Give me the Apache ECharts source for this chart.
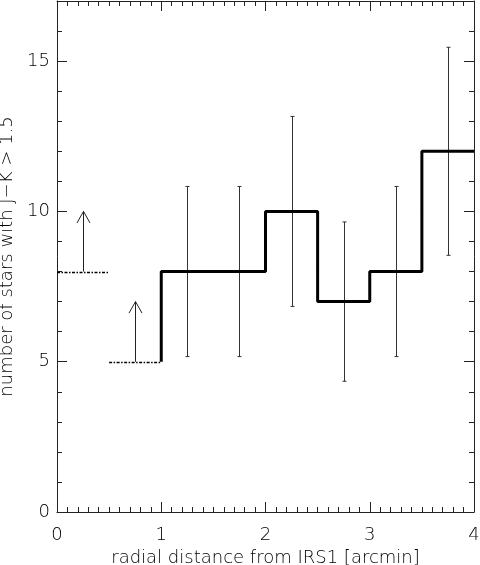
<!DOCTYPE html>
<html><head><meta charset="utf-8">
<script src="https://cdn.jsdelivr.net/npm/echarts@6/dist/echarts.min.js"></script>
<style>html,body{margin:0;padding:0;background:#fff;}#c{width:480px;height:565px;}</style>
</head><body><div id="c"></div>
<script>
// ---- data ----
const binStart = [1.0, 1.5, 2.0, 2.5, 3.0, 3.5];
const binEnd   = [1.5, 2.0, 2.5, 3.0, 3.5, 4.0];
const counts   = [8, 8, 10, 7, 8, 12];
const errX     = [1.25, 1.75, 2.25, 2.75, 3.25, 3.75];
const errLow   = [5.17, 5.17, 6.84, 4.35, 5.17, 8.54];
const errHigh  = [10.83, 10.83, 13.16, 9.65, 10.83, 15.46];
const limitStart = [0.0, 0.5];
const limitEnd   = [0.5, 1.0];
const limitValue = [8, 5];
const limitArrowX = [0.25, 0.75];
const limitArrowTip = [10, 7];
const xTicks = [0, 1, 2, 3, 4];
const yTicks = [0, 5, 10, 15];
const xTitle = 'radial distance from IRS1 [arcmin]';
const yTitle = 'number of stars with J\u2212K > 1.5';

// ---- build ----
const FONT = 'DejaVu Sans';
const FW = 200;
const FS = 18;
const TXT = '#000';
const AX = '#222';
const stepPts = [[binStart[0], limitValue[1]]];
for (let i = 0; i < counts.length; i++) stepPts.push([binStart[i], counts[i]]);
stepPts.push([binEnd[binEnd.length - 1], counts[counts.length - 1]]);

const errData = errX.map((x, i) => [x, errLow[i], errHigh[i]]);
const limData = limitStart.map((x, i) => [x, limitEnd[i], limitValue[i]]);
const arrowData = limitArrowX.map((x, i) => [x, limitValue[i], limitArrowTip[i]]);

function xAxisDef(pos, labels) {
  return {
    type: 'value', position: pos, min: 0, max: 4, interval: 1,
    axisLine: { show: true, onZero: false, lineStyle: { color: AX, width: 1 } },
    axisTick: { show: true, inside: true, length: 10, lineStyle: { color: AX } },
    minorTick: { show: true, splitNumber: 10, length: 5, lineStyle: { color: AX } },
    splitLine: { show: false },
    axisLabel: labels ? { show: true, margin: 14, fontSize: FS, fontWeight: FW, color: TXT, fontFamily: FONT,
      formatter: v => xTicks.includes(v) ? String(v) : '' } : { show: false },
    name: labels ? xTitle : '', nameLocation: 'middle', nameGap: 31,
    nameTextStyle: { fontSize: FS, fontWeight: FW, color: TXT, fontFamily: FONT }
  };
}
function yAxisDef(pos, major, labels) {
  return {
    type: 'value', position: pos, min: 0, max: 17, interval: major ? 5 : 1,
    axisLine: { show: major, onZero: false, lineStyle: { color: AX, width: 1 } },
    axisTick: { show: true, inside: true, length: major ? 10 : 5, lineStyle: { color: AX } },
    splitLine: { show: false },
    axisLabel: labels ? { show: true, margin: 7, fontSize: FS, fontWeight: FW, color: TXT, fontFamily: FONT,
      formatter: v => yTicks.includes(v) ? String(v) : '' } : { show: false },
    name: labels ? yTitle : '', nameLocation: 'middle', nameGap: 36, nameRotate: 90,
    nameTextStyle: { fontSize: FS, fontWeight: FW, color: TXT, fontFamily: FONT }
  };
}

const chart = echarts.init(document.getElementById('c'), null, { renderer: 'canvas' });
chart.setOption({
  backgroundColor: '#fff',
  animation: false,
  grid: { left: 57, right: 6, top: 1, bottom: 53, containLabel: false, outerBoundsMode: 'none' },
  xAxis: [xAxisDef('bottom', true), xAxisDef('top', false)],
  yAxis: [yAxisDef('left', true, true), yAxisDef('right', true, false),
          yAxisDef('left', false, false), yAxisDef('right', false, false)],
  series: [
    {
      type: 'line', xAxisIndex: 0, yAxisIndex: 0, step: 'end', data: stepPts,
      symbol: 'none', lineStyle: { color: '#000', width: 3 }, z: 5
    },
    {
      type: 'custom', xAxisIndex: 0, yAxisIndex: 0, data: errData,
      renderItem: function (params, api) {
        const a = api.coord([api.value(0), api.value(1)]);
        const b = api.coord([api.value(0), api.value(2)]);
        const x = Math.round(a[0]) + 0.5;
        const st = { stroke: '#333', lineWidth: 1 };
        return { type: 'group', children: [
          { type: 'line', shape: { x1: x, y1: a[1], x2: x, y2: b[1] }, style: st },
          { type: 'line', shape: { x1: x - 2, y1: a[1], x2: x + 2, y2: a[1] }, style: st },
          { type: 'line', shape: { x1: x - 2, y1: b[1], x2: x + 2, y2: b[1] }, style: st }
        ]};
      }, z: 4
    },
    {
      type: 'custom', xAxisIndex: 0, yAxisIndex: 0, data: limData,
      renderItem: function (params, api) {
        const a = api.coord([api.value(0), api.value(2)]);
        const b = api.coord([api.value(1), api.value(2)]);
        const y = Math.round(a[1]) + 0.5;
        return { type: 'line', shape: { x1: a[0], y1: y, x2: b[0], y2: y },
          style: { stroke: '#000', lineWidth: 1.5, lineDash: [3, 1.5, 1.5, 1.5] } };
      }, z: 4
    },
    {
      type: 'custom', xAxisIndex: 0, yAxisIndex: 0, data: arrowData,
      renderItem: function (params, api) {
        const a = api.coord([api.value(0), api.value(1)]);
        const b = api.coord([api.value(0), api.value(2)]);
        const x = Math.round(a[0]) + 0.5;
        const st = { stroke: '#222', lineWidth: 1, fill: null };
        return { type: 'group', children: [
          { type: 'line', shape: { x1: x, y1: a[1], x2: x, y2: b[1] }, style: st },
          { type: 'polyline', shape: { points: [[x - 6.5, b[1] + 11.5], [x, b[1]], [x + 6.5, b[1] + 11.5]] }, style: st }
        ]};
      }, z: 4
    }
  ]
});
</script>
</body></html>
